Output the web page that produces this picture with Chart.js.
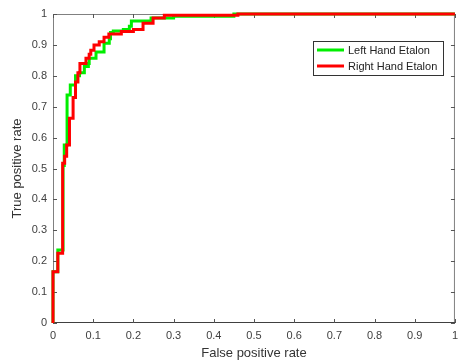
<!DOCTYPE html>
<html>
<head>
<meta charset="utf-8">
<script src="https://cdn.jsdelivr.net/npm/chart.js@4.4.1/dist/chart.umd.min.js"></script>
<style>
  html, body { margin: 0; padding: 0; background: #fff; }
  #wrap { position: relative; width: 464px; height: 363px; }
</style>
</head>
<body>
<div id="wrap"><canvas id="roc"></canvas></div>
<script>
// ROC vertices (stepped: horizontal, then vertical up to the point)
const seriesLabels = ['Left Hand Etalon', 'Right Hand Etalon'];
const seriesColors = ['#00ee00', '#ff0000'];

const leftFpr = [0, 0, 0.012, 0.025, 0.028, 0.035, 0.043, 0.056, 0.066, 0.078, 0.088, 0.09, 0.107, 0.127, 0.14, 0.143, 0.15, 0.175, 0.19, 0.195, 0.244, 0.30, 0.45, 1.0];
const leftTpr = [0, 0.166, 0.236, 0.51, 0.576, 0.738, 0.77, 0.80, 0.81, 0.83, 0.84, 0.857, 0.877, 0.905, 0.92, 0.94, 0.945, 0.95, 0.96, 0.977, 0.987, 0.993, 1.0, 1.0];

const rightFpr = [0, 0, 0.012, 0.024, 0.029, 0.034, 0.041, 0.050, 0.056, 0.062, 0.067, 0.082, 0.09, 0.094, 0.102, 0.115, 0.127, 0.139, 0.17, 0.20, 0.224, 0.249, 0.277, 0.46, 1.0];
const rightTpr = [0, 0.166, 0.226, 0.517, 0.54, 0.576, 0.663, 0.73, 0.78, 0.81, 0.84, 0.857, 0.87, 0.883, 0.90, 0.91, 0.925, 0.935, 0.943, 0.95, 0.97, 0.987, 0.996, 1.0, 1.0];

const axisTicks = [0, 0.1, 0.2, 0.3, 0.4, 0.5, 0.6, 0.7, 0.8, 0.9, 1];

const toPoints = (xs, ys) => xs.map((x, i) => ({ x: x, y: ys[i] }));

// MATLAB-like box with inward ticks, drawn under the curves
const boxPlugin = {
    id: 'box',
    beforeDatasetsDraw(chart) {
        const { ctx, chartArea: a, scales } = chart;
        ctx.save();
        ctx.lineWidth = 1;
        ctx.strokeStyle = '#808080';
        ctx.beginPath();
        ctx.moveTo(a.left + 0.5, a.bottom);
        ctx.lineTo(a.left + 0.5, a.top + 0.5);
        ctx.lineTo(a.right - 0.5, a.top + 0.5);
        ctx.lineTo(a.right - 0.5, a.bottom);
        ctx.stroke();
        ctx.strokeStyle = '#404040';
        ctx.beginPath();
        ctx.moveTo(a.left, a.bottom - 0.5);
        ctx.lineTo(a.right, a.bottom - 0.5);
        ctx.stroke();

        ctx.strokeStyle = '#555';
        ctx.beginPath();
        axisTicks.forEach(v => {
            const px = Math.round(scales.x.getPixelForValue(v)) + 0.5;
            ctx.moveTo(px, a.bottom); ctx.lineTo(px, a.bottom - 4);
            ctx.moveTo(px, a.top); ctx.lineTo(px, a.top + 4);
            const py = Math.round(scales.y.getPixelForValue(v)) + 0.5;
            ctx.moveTo(a.left, py); ctx.lineTo(a.left + 4, py);
            ctx.moveTo(a.right, py); ctx.lineTo(a.right - 4, py);
        });
        ctx.stroke();
        ctx.restore();
    },
    afterDraw(chart) {
        // legend box inside the plot
        const ctx = chart.ctx;
        const bx = 313, by = 41, bw = 130, bh = 34;
        ctx.save();
        ctx.fillStyle = '#fff';
        ctx.fillRect(bx, by, bw, bh);
        ctx.strokeStyle = '#333';
        ctx.lineWidth = 1;
        ctx.strokeRect(bx + 0.5, by + 0.5, bw, bh);
        ctx.font = '11px "Liberation Sans", Arial, sans-serif';
        ctx.textBaseline = 'middle';
        seriesLabels.forEach((label, i) => {
            const y = by + 9 + i * 16;
            ctx.strokeStyle = seriesColors[i];
            ctx.lineWidth = 3;
            ctx.beginPath();
            ctx.moveTo(bx + 4, y);
            ctx.lineTo(bx + 31, y);
            ctx.stroke();
            ctx.fillStyle = '#222';
            ctx.fillText(label, bx + 35, y + 1);
        });
        ctx.restore();
    }
};

const tickFont = { family: '"Liberation Sans", Arial, sans-serif', size: 11 };
const titleFont = { family: '"Liberation Sans", Arial, sans-serif', size: 13 };

new Chart(document.getElementById('roc'), {
    type: 'scatter',
    data: {
        datasets: [
            {
                label: seriesLabels[0],
                data: toPoints(leftFpr, leftTpr),
                borderColor: seriesColors[0],
                backgroundColor: seriesColors[0],
                order: 2
            },
            {
                label: seriesLabels[1],
                data: toPoints(rightFpr, rightTpr),
                borderColor: seriesColors[1],
                backgroundColor: seriesColors[1],
                order: 1
            }
        ]
    },
    options: {
        responsive: true,
        maintainAspectRatio: false,
        animation: false,
        layout: { padding: { top: 14, right: 1, left: 0, bottom: 0 } },
        elements: {
            line: { borderWidth: 3, stepped: 'before', tension: 0, fill: false },
            point: { radius: 0, hoverRadius: 0 }
        },
        datasets: { scatter: { showLine: true, clip: 3 } },
        plugins: {
            legend: { display: false },
            tooltip: { enabled: false }
        },
        scales: {
            x: {
                type: 'linear',
                min: 0,
                max: 1,
                grid: { display: false, drawTicks: false },
                border: { display: false },
                afterBuildTicks: s => { s.ticks = axisTicks.map(v => ({ value: v })); },
                ticks: { font: tickFont, color: '#404040', padding: 6, maxRotation: 0, autoSkip: false, callback: v => String(+v.toFixed(1)) },
                title: { display: true, text: 'False positive rate', font: titleFont, color: '#333', padding: { top: 0, bottom: 2 } },
                afterFit: s => { s.height = 40; }
            },
            y: {
                type: 'linear',
                min: 0,
                max: 1,
                grid: { display: false, drawTicks: false },
                border: { display: false },
                afterBuildTicks: s => { s.ticks = axisTicks.map(v => ({ value: v })); },
                ticks: { font: tickFont, color: '#404040', padding: 6, autoSkip: false, callback: v => String(+v.toFixed(1)) },
                title: { display: true, text: 'True positive rate', font: titleFont, color: '#333', padding: { top: 10, bottom: 0 } },
                afterFit: s => { s.width = 53; }
            }
        }
    },
    plugins: [boxPlugin]
});
</script>
</body>
</html>
